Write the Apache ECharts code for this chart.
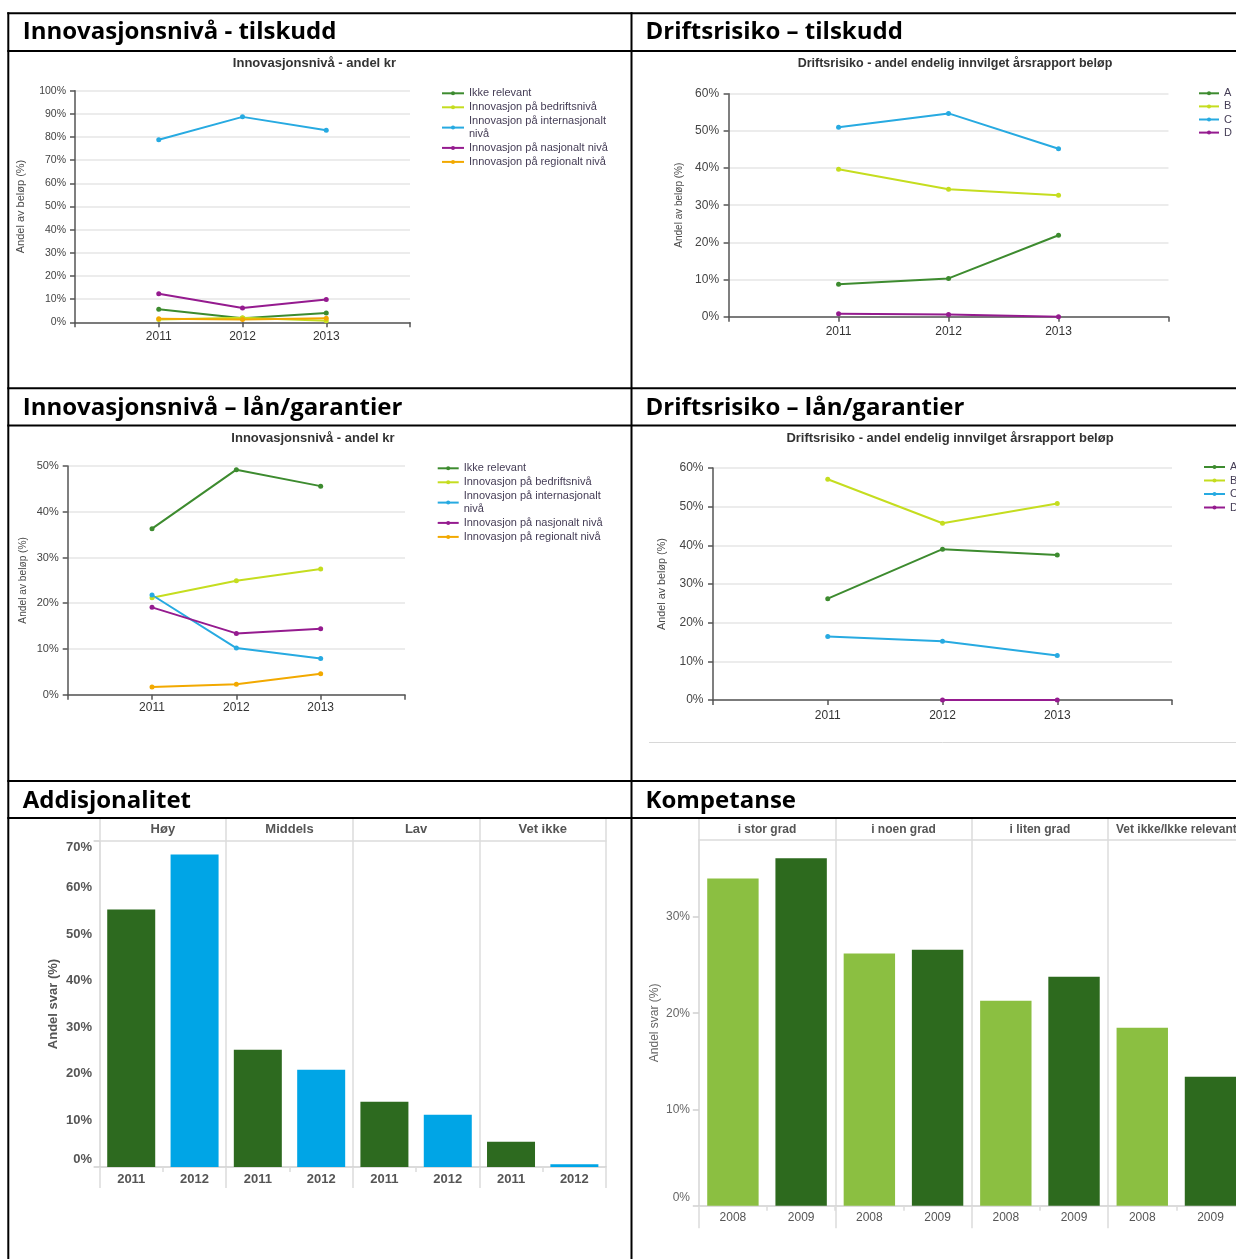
<!DOCTYPE html>
<html>
<head>
<meta charset="utf-8">
<title>Innovasjonsnivå, driftsrisiko, addisjonalitet og kompetanse</title>
<script src="https://cdn.jsdelivr.net/npm/echarts@6/dist/echarts.min.js"></script>
<style>
  html, body { margin: 0; padding: 0; background: #fff; }
  #main { width: 1236px; height: 1259px; }
</style>
</head>
<body>
<div id="main"></div>
<script>
// ---- data ----
const years = [2011, 2012, 2013];

const innovNames = [
  'Ikke relevant',
  'Innovasjon på bedriftsnivå',
  'Innovasjon på internasjonalt nivå',
  'Innovasjon på nasjonalt nivå',
  'Innovasjon på regionalt nivå'
];
// share of amount (%), per series, per year
const innovTilskudd = [
  [5.6, 1.8, 4.0],
  [1.2, 2.0, 0.7],
  [78.8, 88.7, 82.9],
  [12.3, 6.2, 9.8],
  [1.5, 1.2, 1.8]
];
const innovLaan = [
  [36.3, 49.2, 45.6],
  [21.2, 24.9, 27.5],
  [21.8, 10.2, 7.9],
  [19.1, 13.4, 14.4],
  [1.7, 2.3, 4.6]
];

const riskNames = ['A', 'B', 'C', 'D'];
const riskTilskudd = [
  [8.7, 10.3, 21.9],
  [39.7, 34.3, 32.7],
  [51.0, 54.7, 45.2],
  [0.8, 0.6, 0.0]
];
const riskLaan = [
  [26.2, 39.0, 37.5],
  [57.1, 45.7, 50.8],
  [16.4, 15.2, 11.5],
  [null, 0, 0]
];

const addisjonFacets = ['Høy', 'Middels', 'Lav', 'Vet ikke'];
const addisjonYears = ['2011', '2012'];
const addisjon2011 = [55.3, 25.2, 14.0, 5.4];
const addisjon2012 = [67.1, 20.9, 11.2, 0.6];

const kompetanseFacets = ['i stor grad', 'i noen grad', 'i liten grad', 'Vet ikke/Ikke relevant'];
const kompetanseYears = ['2008', '2009'];
const kompetanse2008 = [34.0, 26.2, 21.3, 18.5];
const kompetanse2009 = [36.1, 26.6, 23.8, 13.4];

// ---- styling ----
const FONT = '"Liberation Sans", Arial, Helvetica, sans-serif';
const HEAD_FONT = '"Open Sans", Lato, sans-serif';
const lineColors = ['#3d8b2f', '#c5dd1f', '#27aae1', '#951b8f', '#f2a900'];
const AXIS = '#555';
const GRID_LINE = '#e6e6e6';
const FACET_LINE = '#dcdcdc';

const grids = [], xAxes = [], yAxes = [], series = [], titles = [], legends = [];

function addLineChart(p) {
  const gi = grids.length;
  grids.push({
    left: p.left, top: p.top, width: p.right - p.left, height: p.bottom - p.top,
    containLabel: false, outerBoundsMode: 'none'
  });
  const xi = xAxes.length;
  xAxes.push({
    type: 'value', gridIndex: gi, min: 2010, max: 2014, interval: 1,
    axisLine: { show: true, onZero: false, lineStyle: { color: AXIS, width: 1.5 } },
    axisTick: { show: true, length: 5, lineStyle: { color: AXIS, width: 1.5 } },
    splitLine: { show: false },
    axisLabel: {
      margin: p.xMargin, fontSize: 12, color: '#333', fontFamily: FONT,
      formatter: v => (v === 2010 || v === 2014) ? '' : String(v)
    }
  });
  const yi = yAxes.length;
  yAxes.push({
    type: 'value', gridIndex: gi, min: 0, max: p.max, interval: 10,
    name: 'Andel av beløp (%)', nameLocation: 'middle', nameRotate: 90,
    nameGap: p.nameGap, nameMoveOverlap: false,
    nameTextStyle: { fontSize: p.nameSize, color: '#4a4a4a', fontFamily: FONT },
    axisLine: { show: true, onZero: false, lineStyle: { color: AXIS, width: 1.5 } },
    axisTick: { show: true, length: 5, lineStyle: { color: AXIS, width: 1.5 } },
    splitLine: { show: true, lineStyle: { color: GRID_LINE, width: 1.5 } },
    axisLabel: { margin: p.yMargin, fontSize: p.ySize, color: '#444', fontFamily: FONT, formatter: '{value}%' }
  });
  p.names.forEach((n, i) => {
    const c = p.colors[i];
    series.push({
      type: 'line', name: n, xAxisIndex: xi, yAxisIndex: yi,
      data: years.map((y, k) => [y, p.values[i][k]]).filter(d => d[1] !== null),
      symbol: 'circle', symbolSize: 5, showSymbol: true,
      lineStyle: { width: 2, color: c }, itemStyle: { color: c },
      emphasis: { disabled: true }
    });
  });
  titles.push({
    text: p.title, left: p.titleX, top: p.titleY - p.titleSize / 2, textAlign: 'center', padding: 0,
    textStyle: { fontSize: p.titleSize, lineHeight: p.titleSize, fontWeight: 'bold', color: '#333', fontFamily: FONT }
  });
  legends.push({
    data: p.names, orient: 'vertical', left: p.legendX, top: p.legendY, padding: 0,
    itemWidth: p.legendIconW, itemHeight: 5, itemGap: p.legendGap, selectedMode: false,
    textStyle: { fontSize: p.legendSize, lineHeight: p.legendLH, color: '#443c55', fontFamily: FONT },
    formatter: n => n === 'Innovasjon på internasjonalt nivå' ? 'Innovasjon på internasjonalt\nnivå' : n
  });
}

function addBarChart(p) {
  const gi = grids.length;
  grids.push({
    left: p.left, top: p.top, width: p.right - p.left, height: p.bottom - p.top,
    containLabel: false, outerBoundsMode: 'none'
  });
  const facetStyle = { color: FACET_LINE, width: 1.5 };
  // facet axis at the bottom: baseline, panel separators
  const xFacet = xAxes.length;
  xAxes.push({
    type: 'category', gridIndex: gi, position: 'bottom', data: p.facets, boundaryGap: true,
    axisLine: { show: true, onZero: false, lineStyle: { color: '#d0d0d0', width: 1.5 } },
    axisTick: { show: true, interval: 0, length: p.bottomTick, lineStyle: facetStyle },
    axisLabel: { show: false },
    splitLine: { show: true, interval: 0, lineStyle: facetStyle }
  });
  // year labels under every bar
  const yearCats = [];
  p.facets.forEach(() => p.years.forEach(y => yearCats.push(y)));
  xAxes.push({
    type: 'category', gridIndex: gi, position: 'bottom', data: yearCats, boundaryGap: true,
    axisLine: { show: false, onZero: false },
    axisTick: { show: true, interval: 0, length: 5, lineStyle: facetStyle },
    axisLabel: {
      interval: 0, margin: p.yearMargin, fontSize: p.yearSize, fontWeight: p.yearWeight,
      color: '#555', fontFamily: FONT
    },
    splitLine: { show: false }
  });
  // facet header on top
  xAxes.push({
    type: 'category', gridIndex: gi, position: 'top', data: p.facets, boundaryGap: true,
    axisLine: { show: true, onZero: false, lineStyle: facetStyle },
    axisTick: { show: true, interval: 0, length: p.topTick, lineStyle: facetStyle },
    axisLabel: {
      interval: 0, margin: p.facetMargin, fontSize: p.facetSize, fontWeight: 'bold',
      color: '#555', fontFamily: FONT
    },
    splitLine: { show: false }
  });
  const yi = yAxes.length;
  const labelBase = { fontSize: p.ySize, fontWeight: p.yWeight, color: p.yColor, fontFamily: FONT };
  yAxes.push({
    type: 'value', gridIndex: gi, min: 0, max: p.max, interval: 10,
    name: 'Andel svar (%)', nameLocation: 'middle', nameRotate: 90,
    nameGap: p.nameGap, nameMoveOverlap: false,
    nameTextStyle: { fontSize: p.nameSize, fontWeight: p.yWeight, color: p.yColor, fontFamily: FONT },
    axisLine: { show: true, onZero: false, lineStyle: facetStyle },
    axisTick: { show: true, length: 6, customValues: p.tickValues, lineStyle: { color: '#cfcfcf', width: 1.5 } },
    splitLine: { show: false },
    axisLabel: Object.assign({
      margin: p.yMargin,
      customValues: p.labelValues,
      formatter: v => v === 0 ? '{lo|0%}' : (v === p.max ? '{hi|' + v + '%}' : v + '%'),
      rich: {
        lo: Object.assign({ padding: [0, 0, 16, 0] }, labelBase),
        hi: Object.assign({ padding: [12, 0, 0, 0] }, labelBase)
      }
    }, labelBase)
  });
  p.values.forEach((vals, i) => {
    series.push({
      type: 'bar', name: p.years[i], xAxisIndex: xFacet, yAxisIndex: yi,
      data: vals, barWidth: p.barWidth, barGap: p.barGap,
      itemStyle: { color: p.colors[i] }, emphasis: { disabled: true }
    });
  });
}

// top row: grants
addLineChart({
  left: 75, right: 410, top: 90.7, bottom: 322.3, max: 100,
  names: innovNames, values: innovTilskudd, colors: lineColors,
  xMargin: 8, yMargin: 9, ySize: 10.5, nameGap: 48.5, nameSize: 11,
  title: 'Innovasjonsnivå - andel kr', titleX: 314.5, titleY: 63.3, titleSize: 13,
  legendX: 441, legendY: 87, legendIconW: 22, legendGap: 1.4, legendSize: 11, legendLH: 12.6
});
addLineChart({
  left: 728.6, right: 1168.5, top: 93.7, bottom: 316.7, max: 60,
  names: riskNames, values: riskTilskudd, colors: lineColors,
  xMargin: 9, yMargin: 9.5, ySize: 12, nameGap: 44.6, nameSize: 10,
  title: 'Driftsrisiko - andel endelig innvilget årsrapport beløp', titleX: 955, titleY: 64, titleSize: 12.5,
  legendX: 1198, legendY: 87.3, legendIconW: 20, legendGap: 1.1, legendSize: 11, legendLH: 12
});
// middle row: loans / guarantees
addLineChart({
  left: 67.7, right: 405, top: 466, bottom: 694.7, max: 50,
  names: innovNames, values: innovLaan, colors: lineColors,
  xMargin: 7, yMargin: 9, ySize: 11, nameGap: 39.3, nameSize: 10.2,
  title: 'Innovasjonsnivå - andel kr', titleX: 313, titleY: 438.3, titleSize: 13,
  legendX: 436.7, legendY: 462, legendIconW: 21, legendGap: 1.4, legendSize: 11, legendLH: 12.6
});
addLineChart({
  left: 713, right: 1172, top: 468, bottom: 700, max: 60,
  names: riskNames, values: riskLaan, colors: lineColors,
  xMargin: 9.5, yMargin: 9.5, ySize: 12, nameGap: 45.5, nameSize: 10.8,
  title: 'Driftsrisiko - andel endelig innvilget årsrapport beløp', titleX: 950, titleY: 438.3, titleSize: 13,
  legendX: 1203, legendY: 461, legendIconW: 21, legendGap: 1.5, legendSize: 11, legendLH: 12
});
// bottom row: survey answers
addBarChart({
  left: 99.6, right: 606, top: 841, bottom: 1167, max: 70,
  facets: addisjonFacets, years: addisjonYears, values: [addisjon2011, addisjon2012],
  colors: ['#2d6a1f', '#00a5e6'], barWidth: 48, barGap: '32%',
  bottomTick: 21, topTick: 23, yearMargin: 6, yearSize: 13, yearWeight: 'bold',
  facetMargin: 5.5, facetSize: 13,
  ySize: 13, yWeight: 'bold', yColor: '#555', yMargin: 7.6, nameGap: 39.5, nameSize: 13,
  tickValues: [0, 70], labelValues: [0, 10, 20, 30, 40, 50, 60, 70]
});
addBarChart({
  left: 698.8, right: 1244.6, top: 840, bottom: 1205.7, max: 38,
  facets: kompetanseFacets, years: kompetanseYears, values: [kompetanse2008, kompetanse2009],
  colors: ['#8bbf41', '#2d6a1e'], barWidth: 51.4, barGap: '32.7%',
  bottomTick: 22.6, topTick: 22, yearMargin: 5.6, yearSize: 12, yearWeight: 'normal',
  facetMargin: 4.7, facetSize: 12,
  ySize: 12, yWeight: 'normal', yColor: '#666', yMargin: 8.8, nameGap: 37.8, nameSize: 12,
  tickValues: [0, 10, 20, 30], labelValues: [0, 10, 20, 30]
});

// ---- page frame and section headings ----
const frame = [
  [7.3, 13.3, 1236, 13.3],
  [8.3, 12.3, 8.3, 1259],
  [631.5, 12.3, 631.5, 1259],
  [7.3, 51, 1236, 51],
  [7.3, 388.3, 1236, 388.3],
  [7.3, 425.5, 1236, 425.5],
  [7.3, 781, 1236, 781],
  [7.3, 818, 1236, 818]
];
const headings = [
  ['Innovasjonsnivå - tilskudd', 22.7, 32.6],
  ['Driftsrisiko – tilskudd', 645.5, 32.6],
  ['Innovasjonsnivå – lån/garantier', 22.7, 408.4],
  ['Driftsrisiko – lån/garantier', 645.5, 408.4],
  ['Addisjonalitet', 22.7, 801.6],
  ['Kompetanse', 645.5, 801.6]
];
const graphics = [];
graphics.push({
  type: 'line', silent: true, z: 5,
  shape: { x1: 649, y1: 742.5, x2: 1236, y2: 742.5 },
  style: { stroke: '#d8d8d8', lineWidth: 1 }
});
frame.forEach(f => graphics.push({
  type: 'line', silent: true, z: 10,
  shape: { x1: f[0], y1: f[1], x2: f[2], y2: f[3] },
  style: { stroke: '#000', lineWidth: 2 }
}));
headings.forEach(h => graphics.push({
  type: 'text', silent: true, z: 10, x: h[1], y: h[2],
  style: {
    text: h[0], fontFamily: HEAD_FONT, fontWeight: 'bold', fontSize: 24,
    fill: '#000', align: 'left', verticalAlign: 'middle'
  }
}));

const chart = echarts.init(document.getElementById('main'), null, { renderer: 'canvas' });
chart.setOption({
  animation: false,
  backgroundColor: '#fff',
  textStyle: { fontFamily: FONT },
  title: titles,
  legend: legends,
  grid: grids,
  xAxis: xAxes,
  yAxis: yAxes,
  series: series,
  graphic: graphics,
  tooltip: { show: false }
});
</script>
</body>
</html>
